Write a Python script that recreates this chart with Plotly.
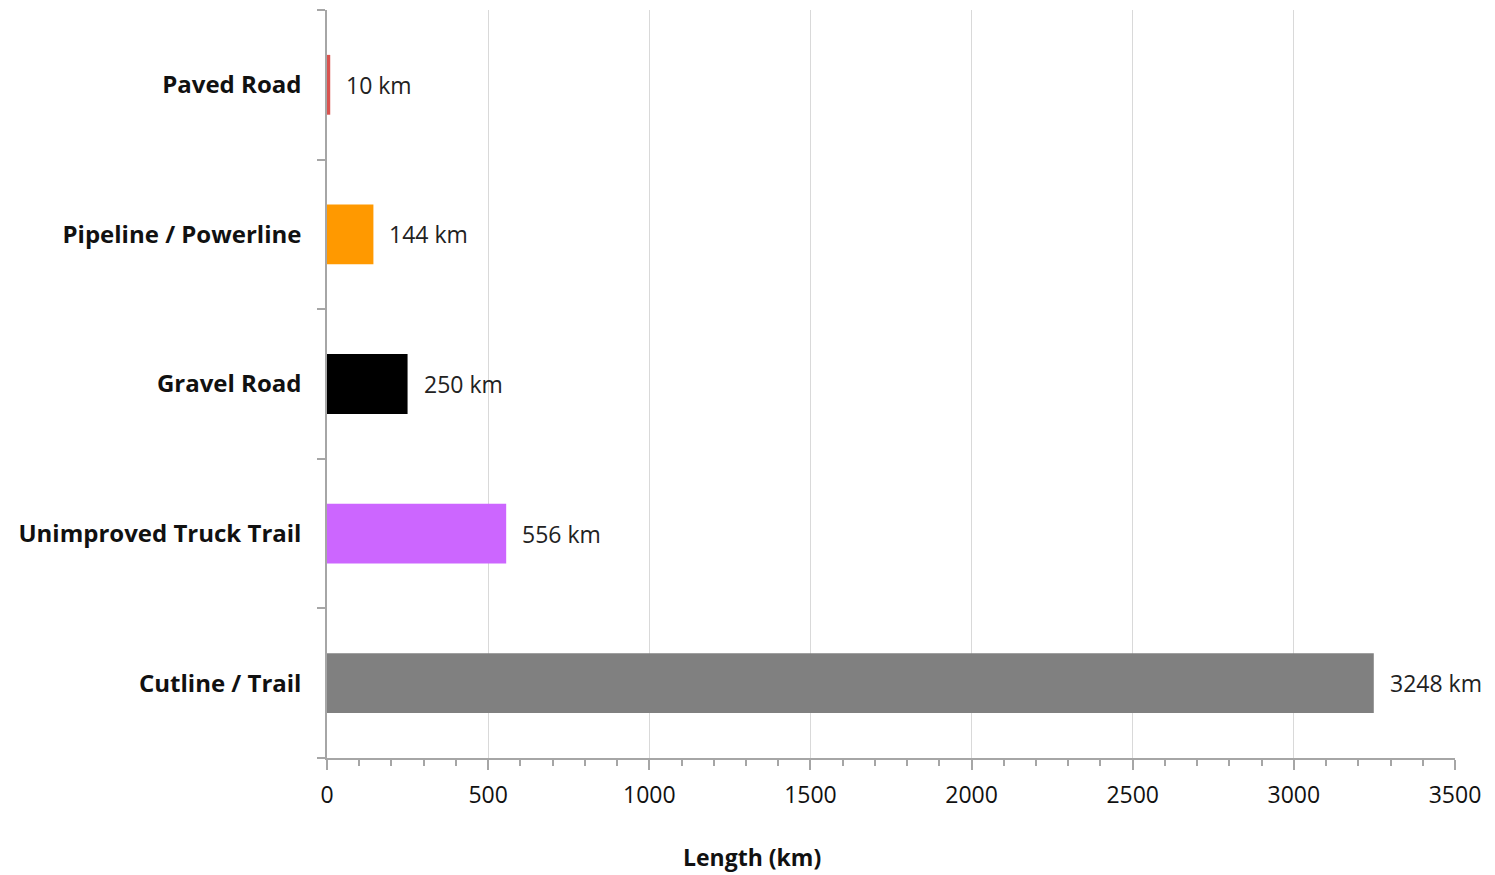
import plotly.graph_objects as go

categories = ["Paved Road", "Pipeline / Powerline", "Gravel Road",
              "Unimproved Truck Trail", "Cutline / Trail"]
lengths_km = [10, 144, 250, 556, 3248]
bar_colors = ["#D9534F", "#FF9900", "#000000", "#CC66FF", "#808080"]
x_ticks = [0, 500, 1000, 1500, 2000, 2500, 3000, 3500]

FONT = "'Open Sans', 'Noto Sans', sans-serif"

fig = go.Figure()
fig.add_trace(go.Bar(
    y=categories,
    x=lengths_km,
    orientation="h",
    marker=dict(color=bar_colors, line=dict(width=0)),
    hoverinfo="x+y",
))

# value labels to the right of each bar
for cat, val in zip(categories, lengths_km):
    fig.add_annotation(
        x=val, y=cat, text=f"{val} km", showarrow=False,
        xanchor="left", yanchor="middle", xshift=14,
        font=dict(family=FONT, size=23, color="#222222"),
    )

# axis title, centred on the page
fig.add_annotation(
    x=0.377, y=-0.133, xref="paper", yref="paper",
    text="<b>Length (km)</b>", showarrow=False,
    xanchor="center", yanchor="middle",
    font=dict(family=FONT, size=23, color="#111111"),
)

fig.update_layout(
    width=1495, height=875,
    margin=dict(l=327, r=40, t=10, b=117),
    paper_bgcolor="white", plot_bgcolor="white",
    bargap=0.6,
    showlegend=False,
    font=dict(family=FONT, size=23, color="#111111"),
)

fig.update_xaxes(
    range=[0, 3500],
    tickvals=x_ticks,
    ticktext=[str(v) for v in x_ticks],
    showgrid=True, gridcolor="#D9D9D9", gridwidth=1,
    zeroline=False,
    showline=True, linecolor="#A6A6A6", linewidth=1.5,
    ticks="outside", ticklen=10, tickcolor="#A6A6A6", tickwidth=1.5,
    minor=dict(dtick=100, ticks="outside", ticklen=6,
               tickcolor="#A6A6A6", tickwidth=1.5, showgrid=False),
    tickfont=dict(family=FONT, size=23, color="#111111"),
    ticklabelstandoff=6,
    fixedrange=True,
)

fig.update_yaxes(
    categoryorder="array",
    categoryarray=categories[::-1],
    showline=True, linecolor="#A6A6A6", linewidth=1.5,
    ticks="outside", ticklen=8, tickcolor="#A6A6A6", tickwidth=1.5,
    tickson="boundaries",
    showgrid=False,
    tickfont=dict(family=FONT, size=24, color="#111111", weight="bold"),
    ticklabelstandoff=19,
    fixedrange=True,
)

fig.write_html("out.html")
